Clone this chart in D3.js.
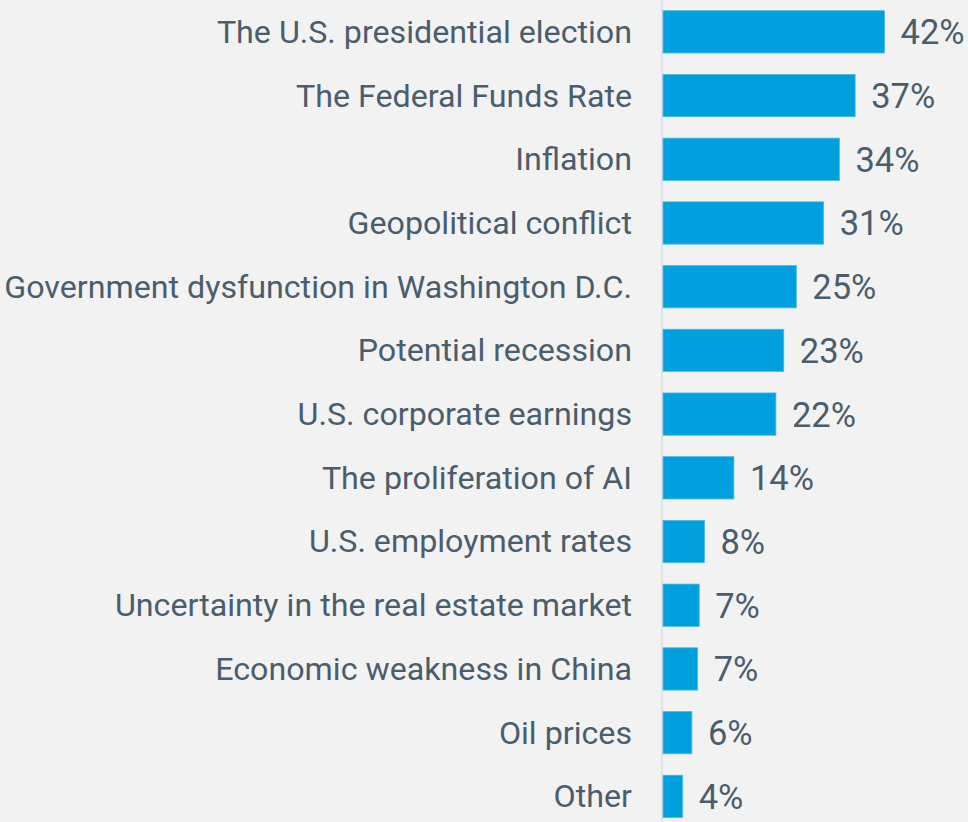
<!DOCTYPE html>
<html>
<head>
<meta charset="utf-8">
<script src="https://cdn.jsdelivr.net/npm/d3@7"></script>
<style>
html,body{margin:0;padding:0;background:#f2f2f2;}
svg{display:block;}
</style>
</head>
<body>
<svg id="chart" width="968" height="822"></svg>
<script>
const categories = [
  "The U.S. presidential election",
  "The Federal Funds Rate",
  "Inflation",
  "Geopolitical conflict",
  "Government dysfunction in Washington D.C.",
  "Potential recession",
  "U.S. corporate earnings",
  "The proliferation of AI",
  "U.S. employment rates",
  "Uncertainty in the real estate market",
  "Economic weakness in China",
  "Oil prices",
  "Other"
];
const values = [42.2, 36.6, 33.6, 30.6, 25.4, 23.0, 21.5, 13.5, 7.9, 6.9, 6.6, 5.5, 3.75];
const valueLabels = ["42%","37%","34%","31%","25%","23%","22%","14%","8%","7%","7%","6%","4%"];

const W = 968, H = 822;
const x0 = 663;
const svg = d3.select("#chart");
svg.append("rect").attr("width", W).attr("height", H).attr("fill", "#f2f2f2");

const x = d3.scaleLinear().domain([0, 50]).range([x0, x0 + 50 * 5.25]);
const y = d3.scaleBand().domain(categories).range([0, 828.2]).paddingInner(0.336).paddingOuter(0.168);

svg.append("line")
  .attr("x1", 662).attr("x2", 662).attr("y1", 0).attr("y2", H)
  .attr("stroke", "#dfe4ea").attr("stroke-width", 2);

const font = "Roboto, 'Open Sans', sans-serif";
const g = svg.append("g");
categories.forEach((c, i) => {
  const yy = y(c);
  const bw = y.bandwidth();
  g.append("rect")
    .attr("x", x(0)).attr("y", yy)
    .attr("width", x(values[i]) - x(0)).attr("height", bw)
    .attr("fill", "#009fdd")
    .attr("stroke", "#4dbbe8").attr("stroke-width", 0.8);
  g.append("text")
    .attr("x", 632).attr("y", yy + bw / 2).attr("dy", "0.34em")
    .attr("text-anchor", "end")
    .attr("font-family", font)
    .attr("font-size", 32.2).attr("fill", "#4a5d6d")
    .text(c);
  g.append("text")
    .attr("x", x(values[i]) + 16).attr("y", yy + bw / 2).attr("dy", "0.36em")
    .attr("font-family", font)
    .attr("font-size", 34.5).attr("fill", "#4a5d6d")
    .text(valueLabels[i]);
});
</script>
</body>
</html>
